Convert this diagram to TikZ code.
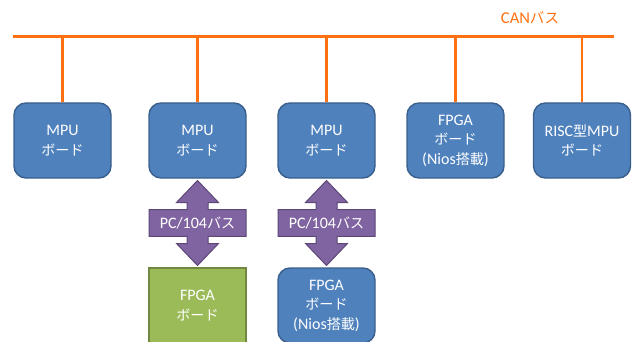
\documentclass[tikz,border=0pt]{standalone}
\usepackage{fontspec}
\setmainfont{Carlito}
\newfontfamily\jp[Scale=0.88]{Noto Sans CJK JP}
\usetikzlibrary{calc}
\definecolor{busorange}{HTML}{FF7010}
\definecolor{boardblue}{HTML}{4F81BD}
\definecolor{boardedge}{HTML}{3A5F8C}
\definecolor{fpgagreen}{HTML}{9BBB59}
\definecolor{greenedge}{HTML}{71893F}
\definecolor{pcviolet}{HTML}{8064A2}
\definecolor{violetedge}{HTML}{5C4776}

\begin{document}
\begin{tikzpicture}[x=1pt,y=-1pt,font=\fontsize{16}{19.5}\selectfont,
  board/.style={draw=boardedge,fill=boardblue,line width=1.4pt,rounded corners=12pt,
    minimum width=97pt,minimum height=75pt,text=white,align=center},
  greenboard/.style={board,draw=greenedge,fill=fpgagreen,rounded corners=0pt},
  bus/.style={busorange,line width=3pt},
  drop/.style={busorange,line width=2.6pt},
  pcshape/.style={fill=pcviolet,draw=violetedge,line width=1pt},
  pclabel/.style={text=white,inner sep=0pt}]
  \useasboundingbox (0,0) rectangle (636,342);
  \clip (0,0) rectangle (636,342);
  % CAN bus across the top
  \draw[bus] (13,37) coordinate (busW) -- (614,37) coordinate (busE);
  \node[text=busorange,font=\fontsize{16.5}{19}\selectfont] (canlbl) at (530,18) {CAN{\jp バス}};
  % boards on the CAN bus
  \node[board] (mpuA) at (62.5,140.5) {MPU\\{\jp ボード}};
  \node[board] (mpuB) at (197.5,140.5) {MPU\\{\jp ボード}};
  \node[board] (mpuC) at (326.5,140.5) {MPU\\{\jp ボード}};
  \node[board] (fpgaA) at (455.5,140.5) {FPGA\\{\jp ボード}\\(Nios{\jp 搭載})};
  \node[board] (risc) at (582,140.5) {RISC{\jp 型}MPU\\{\jp ボード}};
  \foreach \b in {mpuA,mpuB,mpuC,fpgaA,risc}
    \draw[drop] (\b.north) -- (\b.north |- busW);
  % boards below, joined by PC/104
  \node[greenboard] (fpgaB) at (197.5,305.5) {FPGA\\{\jp ボード}};
  \node[board] (fpgaC) at (326.5,305.5) {FPGA\\{\jp ボード}\\(Nios{\jp 搭載})};
  % PC/104 double arrows
  \foreach \top/\bot/\n in {mpuB/fpgaB/pcA,mpuC/fpgaC/pcB}{
    \coordinate (\n) at ($(\top.south)!0.5!(\bot.north)$);
    \draw[pcshape,shift={(\n)}] (0,-42.5) -- (21,-20.5) -- (10.5,-20.5) -- (10.5,-13.3)
      -- (48.5,-13.3) -- (48.5,13.3) -- (10.5,13.3) -- (10.5,20.5) -- (21,20.5) -- (0,42.5)
      -- (-21,20.5) -- (-10.5,20.5) -- (-10.5,13.3) -- (-48.5,13.3) -- (-48.5,-13.3)
      -- (-10.5,-13.3) -- (-10.5,-20.5) -- (-21,-20.5) -- cycle;
    \node[pclabel] (\n-lbl) at (\n) {PC/104{\jp バス}};
  }
\end{tikzpicture}
\end{document}
